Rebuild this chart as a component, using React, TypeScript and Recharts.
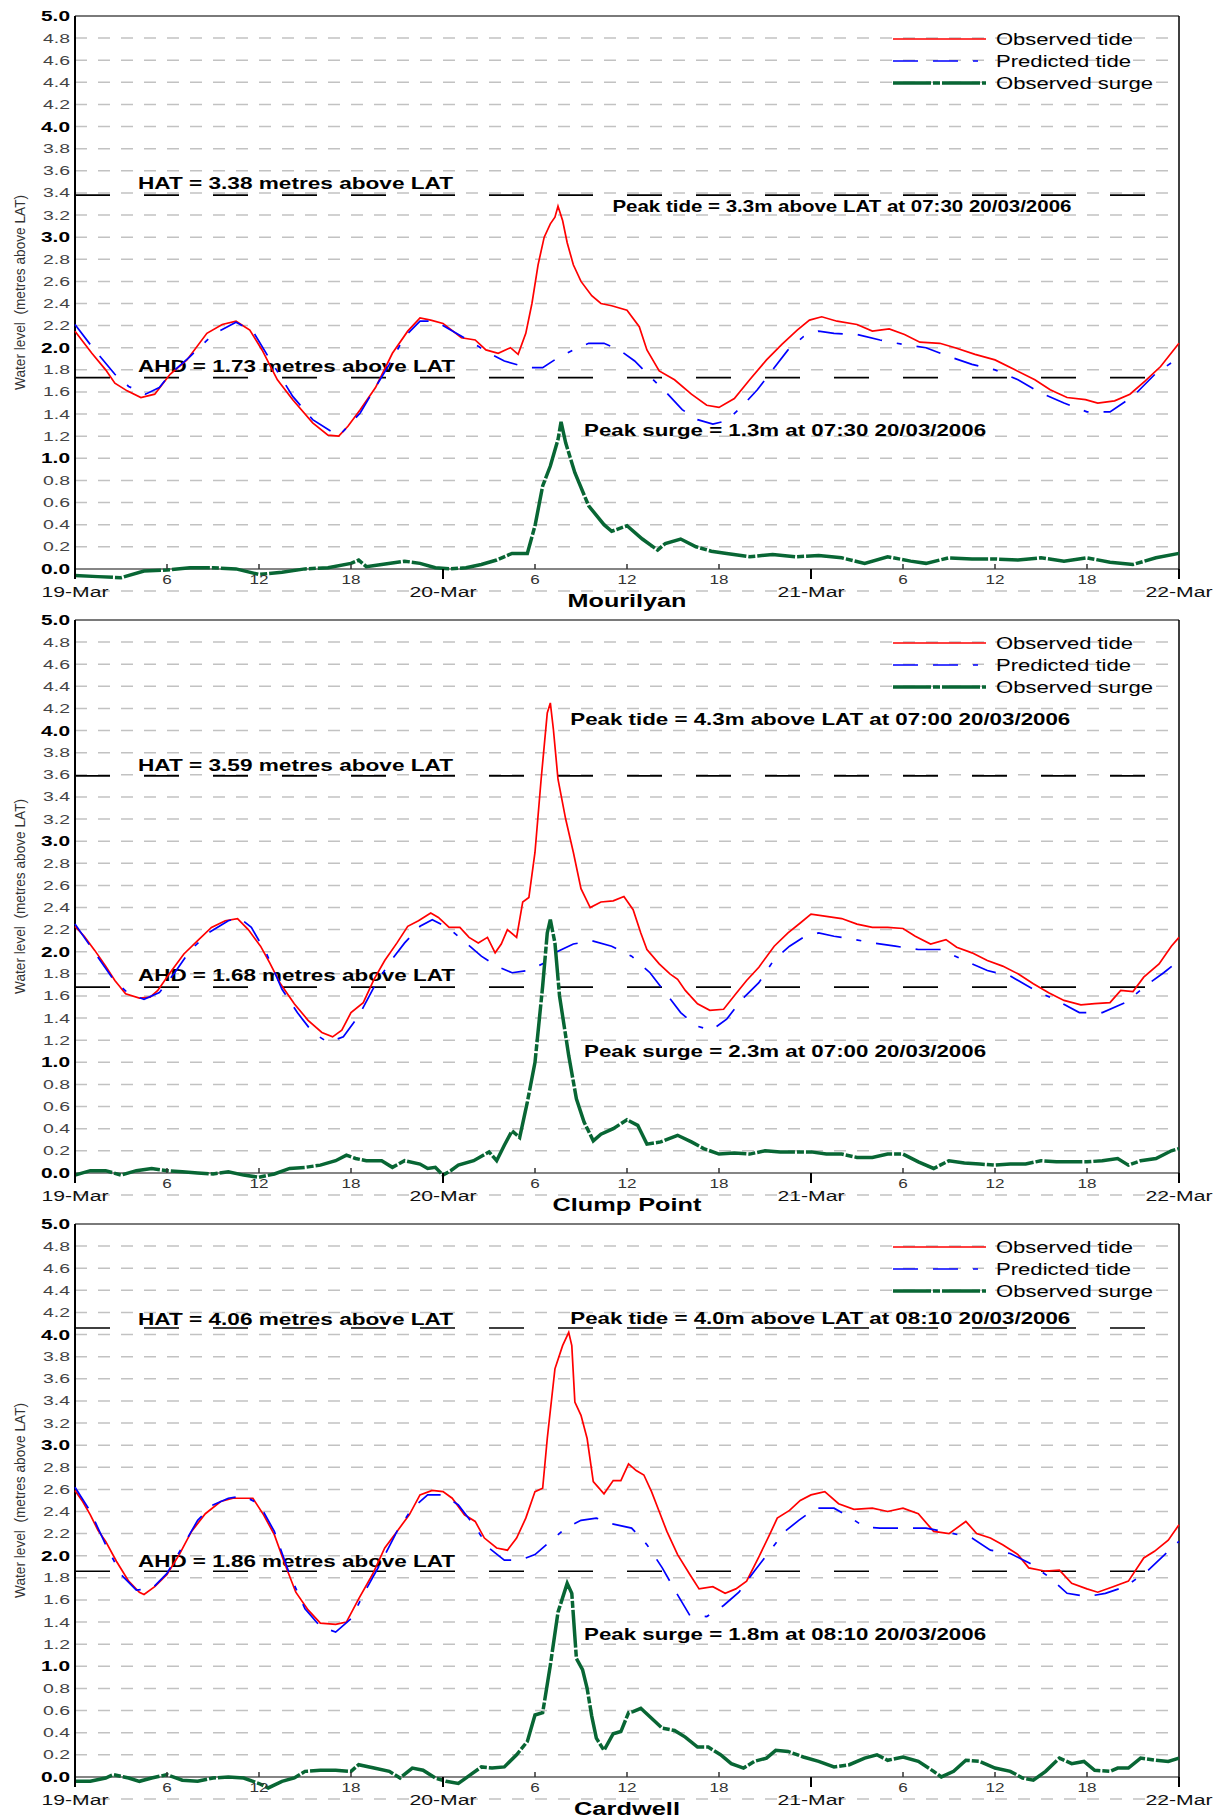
import React from 'react';
import {
  LineChart,
  Line,
  XAxis,
  YAxis,
  CartesianGrid,
  ReferenceLine,
  ReferenceDot,
  Legend,
} from 'recharts';

// [hours after 00:00 19/03/2006, metres above LAT]
type Pt = [number, number];

const mourilyanObserved: Pt[] = [
  [0, 2.15], [1.1, 1.95], [2, 1.8], [2.6, 1.68], [3.4, 1.61], [4.3, 1.55], [5.2, 1.58], [6.2, 1.76],
  [7.3, 1.89], [8.6, 2.13], [9.6, 2.21], [10.5, 2.24], [11.4, 2.16], [12.2, 1.98], [13.2, 1.71],
  [14.2, 1.53], [15.5, 1.32], [16.5, 1.21], [17.2, 1.2], [17.8, 1.29], [18.6, 1.44], [19.6, 1.64],
  [20.7, 1.95], [21.7, 2.15], [22.5, 2.27], [23.2, 2.25], [24, 2.22], [25.2, 2.09], [26.1, 2.07],
  [26.8, 1.98], [27.6, 1.95], [28.4, 2.0], [28.9, 1.94], [29.4, 2.13], [29.8, 2.4], [30.2, 2.75],
  [30.6, 3.0], [31, 3.12], [31.3, 3.18], [31.5, 3.28], [31.8, 3.15], [32.1, 2.95], [32.5, 2.75],
  [33, 2.6], [33.7, 2.47], [34.3, 2.4], [35, 2.38], [36, 2.34], [36.8, 2.19], [37.3, 1.98],
  [38.1, 1.79], [39.1, 1.71], [40.2, 1.58], [41.2, 1.48], [42, 1.46], [43, 1.54], [44, 1.71],
  [45.1, 1.89], [46.1, 2.03], [47.1, 2.16], [47.9, 2.25], [48.7, 2.28], [49.7, 2.24], [51, 2.21],
  [52, 2.15], [53.1, 2.17], [54.1, 2.12], [55.1, 2.05], [56.4, 2.04], [57.4, 2.0], [58.7, 1.94],
  [60, 1.89], [61.3, 1.8], [62.6, 1.71], [63.6, 1.62], [64.7, 1.55], [65.9, 1.53], [66.7, 1.5],
  [67.8, 1.52], [68.8, 1.58], [69.8, 1.7], [70.8, 1.83], [72, 2.04],
];
const mourilyanPredicted: Pt[] = [
  [0, 2.21], [1.1, 2.01], [2.6, 1.76], [3.5, 1.65], [4.6, 1.58], [5.5, 1.64], [6.2, 1.76], [7.5, 1.92],
  [9, 2.12], [10.5, 2.23], [11.6, 2.15], [12.6, 1.92], [14.2, 1.56], [15.5, 1.35], [17.2, 1.2],
  [18, 1.32], [18.6, 1.41], [19.5, 1.62], [20.5, 1.85], [21.5, 2.1], [22.5, 2.24], [23.5, 2.24],
  [24.5, 2.16], [26, 2.04], [27, 1.95], [28, 1.88], [29.5, 1.82], [30.5, 1.82], [31.5, 1.91],
  [32.5, 1.98], [33.5, 2.04], [34.5, 2.04], [35.5, 1.98], [36.5, 1.88], [37.5, 1.74], [38.6, 1.59],
  [39.6, 1.44], [40.6, 1.35], [41.6, 1.31], [42.5, 1.34], [43.5, 1.47], [44.5, 1.62], [45.5, 1.8],
  [46.5, 1.98], [47.5, 2.1], [48.5, 2.15], [49.5, 2.13], [51, 2.12], [52.5, 2.07], [54, 2.03],
  [55.5, 2.0], [57, 1.92], [58.5, 1.85], [60, 1.8], [61.5, 1.71], [63, 1.59], [64.5, 1.5], [66, 1.42],
  [67.5, 1.42], [69, 1.56], [70.5, 1.77], [72, 1.91],
];
const mourilyanSurge: Pt[] = [
  [0, -0.06], [1.5, -0.07], [3, -0.08], [4.5, -0.02], [6, -0.01], [7.5, 0.01], [9, 0.01], [10.5, 0],
  [12, -0.05], [13.5, -0.03], [15, 0], [16.5, 0.01], [18, 0.05], [18.5, 0.08], [19, 0.02], [20, 0.04],
  [21.5, 0.07], [22.5, 0.05], [23.5, 0.01], [24.5, 0], [25.5, 0.01], [26.5, 0.04], [27.5, 0.08],
  [28.5, 0.14], [29.5, 0.14], [30, 0.39], [30.5, 0.75], [31, 0.93], [31.5, 1.17], [31.7, 1.33],
  [32, 1.14], [32.6, 0.87], [33.5, 0.57], [34.5, 0.4], [35, 0.34], [36, 0.39], [37, 0.27], [38, 0.17],
  [38.5, 0.23], [39.5, 0.27], [40.5, 0.2], [41.5, 0.16], [42.5, 0.14], [44, 0.11], [45.5, 0.13],
  [47, 0.11], [48.5, 0.12], [50, 0.1], [51.5, 0.05], [53, 0.11], [54.5, 0.07], [55.5, 0.05], [57, 0.1],
  [58.5, 0.09], [60, 0.09], [61.5, 0.08], [63, 0.1], [64.5, 0.07], [66, 0.1], [67.5, 0.06], [69, 0.04],
  [70.5, 0.1], [72, 0.14],
];

const clumpObserved: Pt[] = [
  [0, 2.23], [0.6, 2.14], [1.3, 2.01], [2, 1.87], [2.6, 1.74], [3.3, 1.62], [4.2, 1.58], [4.9, 1.59],
  [5.4, 1.65], [6.2, 1.81], [7.1, 1.98], [8, 2.1], [8.9, 2.22], [9.8, 2.28], [10.6, 2.3], [11.3, 2.2],
  [12.1, 2.05], [12.7, 1.9], [13.4, 1.71], [14.3, 1.53], [15.2, 1.38], [16.1, 1.27], [16.8, 1.23],
  [17.4, 1.29], [18, 1.45], [18.8, 1.54], [19.5, 1.75], [20.2, 1.92], [21, 2.08], [21.7, 2.23],
  [22.4, 2.28], [23.2, 2.35], [23.7, 2.31], [24.4, 2.22], [25.1, 2.22], [25.7, 2.13], [26.3, 2.08],
  [26.9, 2.13], [27.4, 1.99], [27.8, 2.07], [28.2, 2.2], [28.8, 2.13], [29.2, 2.45], [29.6, 2.49],
  [30, 2.9], [30.4, 3.56], [30.8, 4.16], [31, 4.25], [31.2, 4.01], [31.5, 3.56], [32, 3.2], [32.5, 2.9],
  [33, 2.57], [33.6, 2.4], [34.3, 2.45], [35.1, 2.46], [35.8, 2.5], [36.4, 2.38], [36.9, 2.17],
  [37.3, 2.02], [38.1, 1.89], [38.8, 1.8], [39.3, 1.75], [39.8, 1.65], [40.6, 1.53], [41.4, 1.47],
  [42.3, 1.48], [43.1, 1.62], [43.8, 1.74], [44.6, 1.86], [45.6, 2.05], [46.5, 2.17], [47.3, 2.26],
  [48, 2.34], [49, 2.32], [50, 2.3], [51, 2.25], [52, 2.22], [53, 2.22], [54, 2.21], [54.8, 2.14],
  [55.8, 2.07], [56.8, 2.11], [57.5, 2.04], [58.5, 1.99], [59.5, 1.92], [60.5, 1.87], [61.5, 1.8],
  [62.5, 1.71], [63.5, 1.63], [64.5, 1.56], [65.6, 1.52], [66.5, 1.53], [67.5, 1.54], [68.2, 1.65],
  [69, 1.64], [69.7, 1.77], [70.7, 1.89], [71.5, 2.05], [72, 2.13],
];
const clumpPredicted: Pt[] = [
  [0, 2.25], [1.2, 2.01], [2.5, 1.75], [3.5, 1.62], [4.5, 1.57], [5.5, 1.63], [6.5, 1.81], [7.5, 2.01],
  [8.7, 2.17], [10, 2.28], [10.7, 2.31], [11.5, 2.22], [12.5, 1.98], [13.5, 1.66], [14.5, 1.45],
  [15.5, 1.27], [16.5, 1.18], [17.5, 1.23], [18.5, 1.42], [19.5, 1.68], [20.5, 1.9], [21.5, 2.08],
  [22.5, 2.23], [23.3, 2.29], [24.3, 2.22], [25.5, 2.08], [26.5, 1.96], [27.5, 1.87], [28.5, 1.81],
  [29.5, 1.83], [30.5, 1.89], [31.3, 1.99], [32.5, 2.07], [33.7, 2.1], [35, 2.05], [36.3, 1.96],
  [37.5, 1.81], [38.5, 1.63], [39.5, 1.45], [40.5, 1.33], [41.5, 1.29], [42.5, 1.39], [43.5, 1.57],
  [44.6, 1.72], [45.6, 1.93], [46.6, 2.05], [47.5, 2.13], [48.5, 2.17], [49.5, 2.14], [50.5, 2.12],
  [52, 2.08], [53.5, 2.05], [55, 2.02], [56.5, 2.02], [58, 1.92], [59.5, 1.83], [61, 1.78],
  [62.5, 1.66], [64, 1.56], [65.5, 1.45], [67, 1.45], [68.5, 1.54], [70, 1.71], [71, 1.81], [72, 1.92],
];
const clumpSurge: Pt[] = [
  [0, -0.02], [1, 0.02], [2, 0.02], [3, -0.02], [4, 0.02], [5, 0.04], [6, 0.02], [7, 0.01], [8, 0],
  [9, -0.01], [10, 0.01], [11, -0.02], [12, -0.04], [13, -0.01], [14, 0.04], [15, 0.05], [16, 0.07],
  [17, 0.11], [17.7, 0.16], [18.3, 0.13], [19, 0.11], [20, 0.11], [20.7, 0.05], [21.5, 0.11],
  [22.5, 0.08], [23, 0.04], [23.5, 0.05], [24, -0.02], [24.5, 0.02], [25, 0.07], [26, 0.11],
  [27, 0.19], [27.5, 0.11], [28, 0.25], [28.5, 0.38], [29, 0.32], [29.5, 0.64], [30, 1.0], [30.5, 1.69],
  [30.8, 2.17], [31, 2.29], [31.3, 2.08], [31.6, 1.6], [32.2, 1.06], [32.7, 0.67], [33.2, 0.46],
  [33.8, 0.29], [34.3, 0.35], [35.1, 0.4], [36, 0.48], [36.7, 0.43], [37.3, 0.26], [38.2, 0.28],
  [39.3, 0.34], [40.2, 0.28], [41, 0.22], [42, 0.17], [43, 0.18], [44, 0.17], [45, 0.2], [46, 0.19],
  [47, 0.19], [48, 0.19], [49, 0.17], [50, 0.17], [51, 0.14], [52, 0.14], [53, 0.17], [54, 0.17],
  [55, 0.1], [56, 0.04], [57, 0.11], [58, 0.09], [59, 0.08], [60, 0.07], [61, 0.08], [62, 0.08],
  [63, 0.11], [64, 0.1], [65, 0.1], [66, 0.1], [67, 0.11], [68, 0.13], [68.7, 0.07], [69.5, 0.11],
  [70.5, 0.13], [71.5, 0.2], [72, 0.22],
];

const cardwellObserved: Pt[] = [
  [0, 2.59], [0.5, 2.49], [1, 2.37], [1.5, 2.23], [2, 2.13], [2.7, 1.95], [3.5, 1.77], [4.2, 1.67],
  [4.5, 1.65], [5.2, 1.72], [6, 1.83], [6.8, 2.01], [7.6, 2.22], [8.5, 2.38], [9.5, 2.49], [10.3, 2.52],
  [11, 2.52], [11.6, 2.52], [12.3, 2.37], [13, 2.19], [13.7, 1.92], [14.4, 1.67], [15.2, 1.51],
  [16, 1.39], [17, 1.38], [17.7, 1.4], [18.5, 1.61], [19.4, 1.83], [20.2, 2.07], [21, 2.22],
  [21.8, 2.37], [22.5, 2.55], [23.3, 2.59], [24, 2.58], [24.6, 2.52], [25.4, 2.37], [26.1, 2.31],
  [26.7, 2.16], [27.5, 2.07], [28.2, 2.05], [28.8, 2.16], [29.4, 2.34], [30, 2.58], [30.5, 2.61],
  [30.8, 3.06], [31.3, 3.69], [31.8, 3.9], [32.2, 4.02], [32.4, 3.9], [32.6, 3.39], [33, 3.27],
  [33.4, 3.06], [33.8, 2.67], [34.5, 2.56], [35.1, 2.68], [35.6, 2.68], [36.1, 2.83], [36.6, 2.77],
  [37.1, 2.73], [37.6, 2.58], [38.1, 2.4], [38.6, 2.22], [39.3, 2.01], [40.1, 1.83], [40.7, 1.7],
  [41.6, 1.72], [42.4, 1.66], [43.1, 1.7], [43.8, 1.77], [44.6, 1.99], [45.3, 2.19], [45.8, 2.34],
  [46.6, 2.41], [47.3, 2.5], [48, 2.55], [48.9, 2.58], [49.8, 2.47], [50.8, 2.42], [52, 2.43],
  [53, 2.4], [54, 2.43], [55, 2.38], [56, 2.22], [57, 2.2], [58.1, 2.31], [58.8, 2.2], [59.7, 2.16],
  [60.5, 2.1], [61.5, 2.01], [62.2, 1.89], [63.3, 1.86], [64.2, 1.87], [65, 1.75], [66, 1.7],
  [66.7, 1.67], [67.7, 1.72], [68.7, 1.77], [69.7, 1.98], [70.4, 2.04], [71.3, 2.14], [72, 2.28],
];
const cardwellPredicted: Pt[] = [
  [0, 2.62], [1, 2.4], [2, 2.1], [3, 1.83], [4, 1.69], [5, 1.7], [6, 1.84], [7, 2.08], [8, 2.32],
  [9, 2.46], [10, 2.52], [11, 2.54], [12, 2.47], [13, 2.22], [14, 1.83], [15, 1.52], [16, 1.36],
  [17, 1.31], [18, 1.43], [19, 1.7], [20, 1.95], [21, 2.22], [22, 2.43], [23, 2.55], [24, 2.55],
  [25, 2.46], [26, 2.28], [27, 2.07], [28, 1.96], [29, 1.96], [30, 2.01], [31, 2.13], [32, 2.25],
  [33, 2.32], [34, 2.34], [35, 2.29], [36.3, 2.25], [37.3, 2.1], [38.3, 1.89], [39.2, 1.67],
  [40.1, 1.46], [41.2, 1.45], [42.3, 1.55], [43.3, 1.67], [44.3, 1.86], [45.3, 2.04], [46.3, 2.22],
  [47.2, 2.32], [48.3, 2.43], [49.5, 2.43], [50.5, 2.35], [51.5, 2.26], [52.5, 2.25], [54, 2.25],
  [55.5, 2.25], [57, 2.21], [58.5, 2.16], [59.7, 2.05], [61, 2.02], [62.3, 1.93], [63.5, 1.81],
  [64.7, 1.66], [66, 1.63], [67.2, 1.66], [68.5, 1.72], [70, 1.87], [71.3, 2.04], [72, 2.13],
];
const cardwellSurge: Pt[] = [
  [0, -0.04], [1, -0.04], [2, -0.01], [2.5, 0.02], [3.5, -0.01], [4.2, -0.04], [5, -0.01], [6, 0.02],
  [7, -0.03], [8, -0.04], [9, -0.01], [10, 0], [11, -0.01], [12, -0.06], [12.6, -0.1], [13.5, -0.04],
  [14.3, -0.01], [15, 0.05], [16, 0.06], [17, 0.06], [18, 0.05], [18.5, 0.11], [19.5, 0.08],
  [20.5, 0.05], [21.2, -0.01], [22, 0.08], [22.7, 0.06], [23.5, -0.01], [24.2, -0.04], [25, -0.06],
  [25.8, 0.02], [26.5, 0.09], [27.2, 0.08], [28, 0.09], [28.8, 0.2], [29.5, 0.32], [30, 0.56],
  [30.5, 0.58], [31, 1.01], [31.5, 1.49], [32.1, 1.75], [32.4, 1.66], [32.7, 1.07], [33.1, 0.97],
  [33.4, 0.8], [33.7, 0.55], [34, 0.35], [34.5, 0.24], [35.1, 0.39], [35.6, 0.41], [36.1, 0.58],
  [36.4, 0.59], [36.9, 0.62], [37.6, 0.53], [38.3, 0.44], [39.1, 0.42], [39.8, 0.36], [40.6, 0.27],
  [41.3, 0.27], [42.1, 0.2], [42.8, 0.12], [43.6, 0.08], [44.3, 0.14], [45.1, 0.17], [45.7, 0.24],
  [46.5, 0.23], [47.5, 0.18], [48.5, 0.14], [49.5, 0.09], [50.5, 0.11], [51.5, 0.17], [52.3, 0.2],
  [53, 0.15], [54, 0.18], [55, 0.14], [56, 0.05], [56.5, 0], [57.3, 0.05], [58.1, 0.15], [59, 0.14],
  [60, 0.08], [61, 0.05], [61.8, -0.01], [62.5, -0.03], [63.3, 0.05], [64.2, 0.17], [65, 0.12],
  [65.8, 0.14], [66.5, 0.06], [67.5, 0.05], [68, 0.08], [68.7, 0.08], [69.5, 0.17], [70.5, 0.15],
  [71.3, 0.14], [72, 0.17],
];

const HOUR_TICKS = [0, 6, 12, 18, 24, 30, 36, 42, 48, 54, 60, 66, 72];
const TOP_TICKS = [3, 6, 9, 12, 15, 18, 21, 24, 27, 30, 33, 36, 39, 42, 45, 48, 51, 54, 57, 60, 63, 66, 69];
const LEVEL_TICKS = [
  0, 0.2, 0.4, 0.6, 0.8, 1, 1.2, 1.4, 1.6, 1.8, 2, 2.2, 2.4, 2.6, 2.8, 3, 3.2, 3.4, 3.6, 3.8, 4, 4.2,
  4.4, 4.6, 4.8, 5,
];
const DAY_LABELS = ['19-Mar', '20-Mar', '21-Mar', '22-Mar'];

const FONT = '"Liberation Sans", Arial, Helvetica, sans-serif';
const PLOT_H = 575; // -0.2 .. 5.0
const ZERO_DROP = (0.2 * PLOT_H) / 5.2; // plot bottom sits at -0.2, the 0.0 line is this far above

const SURGE_DASH = '38 2 7 2';
const PRED_DASH = '25 15 25 15 5 15';

const SERIES = [
  { key: 'obs', name: 'Observed tide', color: '#ff0000', width: 1.7, dash: undefined, labelW: 137 },
  { key: 'pred', name: 'Predicted tide', color: '#0000ff', width: 1.7, dash: PRED_DASH, labelW: 135 },
  { key: 'surge', name: 'Observed surge', color: '#086634', width: 3.5, dash: SURGE_DASH, labelW: 157 },
];

type Note = { text: string; h: number; v: number; w: number };

const STATIONS = [
  {
    name: 'Mourilyan', nameW: 119,
    hat: 3.38, hatText: 'HAT = 3.38 metres above LAT', hatLift: 12,
    ahd: 1.73, ahdText: 'AHD = 1.73 metres above LAT', ahdLift: 12,
    obs: mourilyanObserved, pred: mourilyanPredicted, surge: mourilyanSurge,
    peakTide: { text: 'Peak tide = 3.3m above LAT at 07:30 20/03/2006', h: 35.05, v: 3.28, w: 459 },
    peakSurge: { text: 'Peak surge = 1.3m at 07:30 20/03/2006', h: 33.2, v: 1.255, w: 402 },
  },
  {
    name: 'Clump Point', nameW: 149,
    hat: 3.59, hatText: 'HAT = 3.59 metres above LAT', hatLift: 11.5,
    ahd: 1.68, ahdText: 'AHD = 1.68 metres above LAT', ahdLift: 12,
    obs: clumpObserved, pred: clumpPredicted, surge: clumpSurge,
    peakTide: { text: 'Peak tide = 4.3m above LAT at 07:00 20/03/2006', h: 32.3, v: 4.11, w: 500 },
    peakSurge: { text: 'Peak surge = 2.3m at 07:00 20/03/2006', h: 33.2, v: 1.1, w: 402 },
  },
  {
    name: 'Cardwell', nameW: 106,
    hat: 4.06, hatText: 'HAT = 4.06 metres above LAT', hatLift: 9,
    ahd: 1.86, ahdText: 'AHD = 1.86 metres above LAT', ahdLift: 10.5,
    obs: cardwellObserved, pred: cardwellPredicted, surge: cardwellSurge,
    peakTide: { text: 'Peak tide = 4.0m above LAT at 08:10 20/03/2006', h: 32.3, v: 4.155, w: 500 },
    peakSurge: { text: 'Peak surge = 1.8m at 08:10 20/03/2006', h: 33.2, v: 1.29, w: 402 },
  },
];

const rows = (pts: Pt[], key: string) => pts.map(([h, v]) => ({ h, [key]: v }));

function HourTick({ x, y, payload }: any) {
  const h = payload.value;
  const z = y - ZERO_DROP;
  if (h % 24 === 0) {
    return (
      <g>
        <line x1={x} x2={x} y1={z} y2={z + 10} stroke="#000" strokeWidth={2} />
        <text x={x} y={z + 28.3} textAnchor="middle" fontFamily={FONT} fontSize={15.5} fill="#111"
          textLength={67} lengthAdjust="spacingAndGlyphs">
          {DAY_LABELS[h / 24]}
        </text>
      </g>
    );
  }
  const label = String(h % 24);
  return (
    <g>
      <line x1={x} x2={x} y1={z - 5} y2={z} stroke="#333" strokeWidth={1.5} />
      <text x={x} y={z + 14.8} textAnchor="middle" fontFamily={FONT} fontSize={12.5} fill="#333"
        textLength={label.length === 1 ? 9.5 : 19} lengthAdjust="spacingAndGlyphs">
        {label}
      </text>
    </g>
  );
}

function TopTick({ x, y, payload }: any) {
  const len = payload.value === 36 ? 10 : 5;
  return <line x1={x} x2={x} y1={y} y2={y + len} stroke="#333" strokeWidth={1.5} />;
}

function LevelTick({ x, y, payload }: any) {
  const v = payload.value;
  const major = Math.abs(v - Math.round(v)) < 1e-6;
  return (
    <text x={x} y={y + (major ? 5 : 4.5)} textAnchor="end" fontFamily={FONT}
      fontSize={major ? 14 : 12.5} fontWeight={major ? 700 : 400} fill={major ? '#000' : '#444'}
      textLength={major ? 29 : 27} lengthAdjust="spacingAndGlyphs">
      {v.toFixed(1)}
    </text>
  );
}

// bold note just above a datum line
const lineNote = (text: string, lift: number, w: number) => (p: any) => {
  const vb = p.viewBox || { x: 0, y: 0 };
  return (
    <text x={vb.x + 63} y={vb.y - lift + 6.2} fontFamily={FONT} fontSize={17} fontWeight={700}
      fill="#000" textLength={w} lengthAdjust="spacingAndGlyphs">
      {text}
    </text>
  );
};

// bold note whose left edge / middle sits on a chart position
const pointNote = (n: Note) => (p: any) => {
  const vb = p.viewBox || { x: 0, y: 0 };
  return (
    <text x={vb.x} y={vb.y + 6.2} fontFamily={FONT} fontSize={17} fontWeight={700} fill="#000"
      textLength={n.w} lengthAdjust="spacingAndGlyphs">
      {n.text}
    </text>
  );
};

function SeriesKey({ payload }: any) {
  const items = payload || [];
  return (
    <svg width={300} height={70} style={{ display: 'block', overflow: 'visible' }}>
      {SERIES.map((s, i) => {
        const it = items.find((p: any) => p.dataKey === s.key);
        const y = 11 + i * 22;
        return (
          <g key={s.key}>
            <line x1={8} x2={101} y1={y} y2={y} stroke={it ? it.color : s.color} strokeWidth={s.width}
              strokeDasharray={s.dash} />
            <text x={111} y={y + 6} fontFamily={FONT} fontSize={17} fill="#000" textLength={s.labelW}
              lengthAdjust="spacingAndGlyphs">
              {it ? it.value : s.name}
            </text>
          </g>
        );
      })}
    </svg>
  );
}

function TidePanel({ st, top }: { st: (typeof STATIONS)[number]; top: number }) {
  const height = 640;
  return (
    <div style={{ position: 'absolute', left: 0, top }}>
      <LineChart width={1220} height={height} margin={{ top: 16, right: 41, bottom: 0, left: 0 }}>
        <CartesianGrid vertical={false} stroke="#c2c2c2" strokeWidth={1.5} strokeDasharray="12 11" />
        <XAxis xAxisId="top" orientation="top" type="number" domain={[0, 72]} allowDataOverflow
          ticks={TOP_TICKS} interval={0} height={0} axisLine={false} tickLine={false} tickSize={0}
          tickMargin={0} tick={<TopTick />} />
        <XAxis dataKey="h" type="number" domain={[0, 72]} ticks={HOUR_TICKS} interval={0}
          height={height - 16 - PLOT_H} axisLine={false} tickLine={false} tickSize={0} tickMargin={0}
          tick={<HourTick />}
          label={(p: any) => {
            const vb = p.viewBox || { x: 75, y: 591, width: 1104 };
            return (
              <text x={vb.x + vb.width / 2} y={vb.y - ZERO_DROP + 38.2} textAnchor="middle"
                fontFamily={FONT} fontSize={18} fontWeight={700} fill="#000" textLength={st.nameW}
                lengthAdjust="spacingAndGlyphs">
                {st.name}
              </text>
            );
          }} />
        <YAxis type="number" domain={[-0.2, 5]} ticks={LEVEL_TICKS} interval={0} width={75}
          axisLine={false} tickLine={false} tickSize={0} tickMargin={5} tick={<LevelTick />}
          label={(p: any) => {
            const vb = p.viewBox || { x: 0, y: 16, height: PLOT_H };
            const cy = vb.y + (vb.height - ZERO_DROP) / 2;
            return (
              <text transform={`translate(25,${cy}) rotate(-90)`} textAnchor="middle" fontFamily={FONT}
                fontSize={15} fill="#333" textLength={195} lengthAdjust="spacingAndGlyphs"
                style={{ whiteSpace: 'pre' }}>
                Water level  (metres above LAT)
              </text>
            );
          }} />

        <ReferenceLine y={0} stroke="#858585" strokeWidth={2} />
        <ReferenceLine y={5} stroke="#7a7a7a" strokeWidth={2} />
        <ReferenceLine segment={[{ x: 0, y: 0 }, { x: 0, y: 5 }]} stroke="#000" strokeWidth={2} />
        <ReferenceLine segment={[{ x: 72, y: 0 }, { x: 72, y: 5 }]} stroke="#000" strokeWidth={1.5} />
        <ReferenceLine y={st.hat} stroke="#000" strokeWidth={1.6} strokeDasharray="35 34"
          label={lineNote(st.hatText, st.hatLift, 315)} />
        <ReferenceLine y={st.ahd} stroke="#000" strokeWidth={1.6} strokeDasharray="35 34"
          label={lineNote(st.ahdText, st.ahdLift, 317)} />

        <Line data={rows(st.obs, 'obs')} dataKey="obs" name="Observed tide" type="linear"
          stroke="#ff0000" strokeWidth={1.7} dot={false} activeDot={false} isAnimationActive={false} />
        <Line data={rows(st.pred, 'pred')} dataKey="pred" name="Predicted tide" type="linear"
          stroke="#0000ff" strokeWidth={1.7} strokeDasharray={PRED_DASH} dot={false}
          activeDot={false} isAnimationActive={false} />
        <Line data={rows(st.surge, 'surge')} dataKey="surge" name="Observed surge" type="linear"
          stroke="#086634" strokeWidth={3.5} strokeDasharray={SURGE_DASH} dot={false} activeDot={false}
          isAnimationActive={false} />

        <ReferenceDot x={st.peakTide.h} y={st.peakTide.v} r={0} fill="none" stroke="none"
          label={pointNote(st.peakTide)} />
        <ReferenceDot x={st.peakSurge.h} y={st.peakSurge.v} r={0} fill="none" stroke="none"
          label={pointNote(st.peakSurge)} />

        <Legend layout="vertical" align="center" verticalAlign="middle"
          wrapperStyle={{ top: 28, left: 885, width: 300, height: 70 }}
          content={(p: any) => <SeriesKey payload={p.payload} />} />
      </LineChart>
    </div>
  );
}

export default function App() {
  return (
    <div style={{ position: 'absolute', left: 0, top: 0, width: 1220, height: 1818, overflow: 'hidden', background: '#fff' }}>
      {STATIONS.map((st, i) => (
        <TidePanel key={st.name} st={st} top={i * 604} />
      ))}
    </div>
  );
}
